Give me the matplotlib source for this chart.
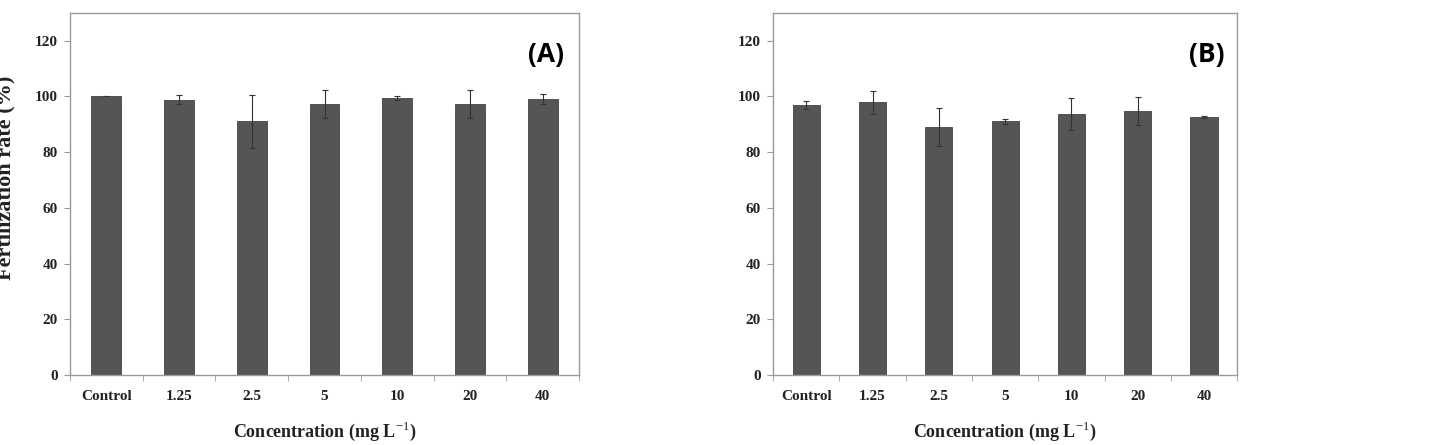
import matplotlib.pyplot as plt
import numpy as np

categories = ['Control', '1.25', '2.5', '5', '10', '20', '40']
rate_a = [100.0, 98.8, 91.0, 97.2, 99.3, 97.2, 99.0]
err_a = [0.0, 1.5, 9.6, 5.0, 0.8, 5.0, 1.8]
rate_b = [96.9, 97.8, 88.9, 91.0, 93.7, 94.7, 92.6]
err_b = [1.5, 4.2, 6.8, 1.0, 5.7, 5.0, 0.4]
yticks = [0, 20, 40, 60, 80, 100, 120]

serif = ['Liberation Serif', 'DejaVu Serif']
plt.rcParams['mathtext.fontset'] = 'custom'
plt.rcParams['mathtext.rm'] = 'Liberation Serif'
plt.rcParams['mathtext.bf'] = 'Liberation Serif:bold'
bar_color = '#555555'
spine_color = '#9a9a9a'

fig = plt.figure(figsize=(14.38, 4.45), dpi=100)
ax_a = fig.add_axes([0.0487, 0.1573, 0.354, 0.8142])
ax_b = fig.add_axes([0.5376, 0.1573, 0.3227, 0.8142])


def draw_panel(ax, vals, errs, tag):
    x = np.arange(len(categories))
    ax.bar(x, vals, width=0.41, color=bar_color, edgecolor='#444444', linewidth=0.6, zorder=2)
    ax.errorbar(x, vals, yerr=errs, fmt='none', ecolor='#333333', elinewidth=0.8,
                capsize=2.5, capthick=0.8, zorder=3)
    ax.set_xlim(-0.5, len(categories) - 0.5)
    ax.set_ylim(0, 130)
    ax.set_yticks(yticks)
    ax.set_yticklabels([str(v) for v in yticks], fontfamily=serif, fontweight='bold',
                       fontsize=11, color='#222222')
    ax.set_xticks(x)
    ax.set_xticklabels(categories, fontfamily=serif, fontweight='bold', fontsize=11,
                       color='#222222')
    ax.set_xticks(np.arange(len(categories) + 1) - 0.5, minor=True)
    ax.tick_params(axis='x', which='major', length=0, pad=11)
    ax.tick_params(axis='x', which='minor', length=4, color=spine_color, direction='out')
    ax.tick_params(axis='y', length=4, color=spine_color, pad=5)
    for s in ax.spines.values():
        s.set_color(spine_color)
        s.set_linewidth(1.0)
    ax.set_xlabel('Concentration (mg L$^{\\mathrm{-1}}$)', fontfamily=serif,
                  fontweight='bold', fontsize=13, labelpad=12, color='#222222')
    ax.text(0.935, 0.885, tag, transform=ax.transAxes, ha='center', va='center',
            fontsize=19, fontweight='bold', family=['Open Sans', 'DejaVu Sans'])


draw_panel(ax_a, rate_a, err_a, '(A)')
draw_panel(ax_b, rate_b, err_b, '(B)')

fig.text(0.0035, 0.6, 'Fertilization rate (%)', rotation=90, ha='center', va='center',
         fontfamily=serif, fontweight='bold', fontsize=16, color='#222222')

fig.savefig('out.png', dpi=100)
